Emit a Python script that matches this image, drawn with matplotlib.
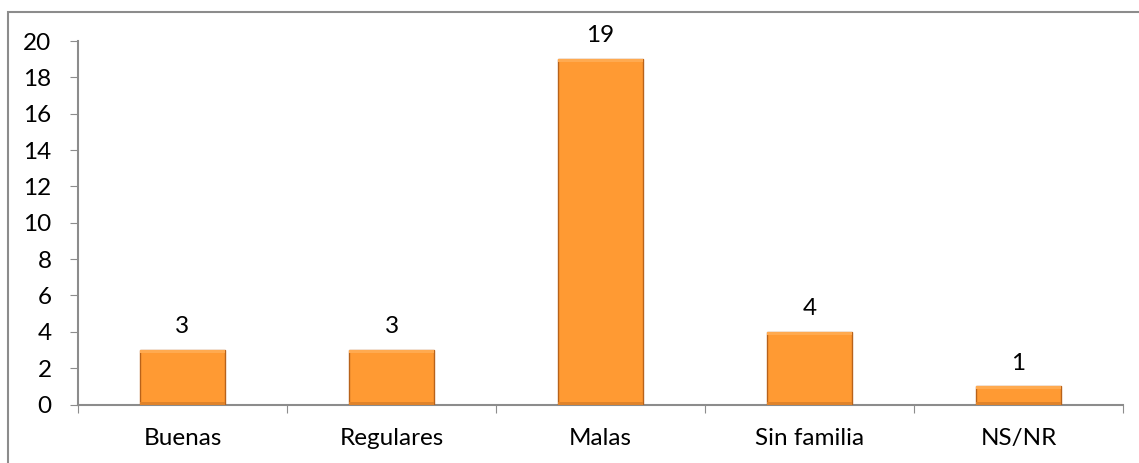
import matplotlib.pyplot as plt
from matplotlib.patches import Rectangle

categories = ['Buenas', 'Regulares', 'Malas', 'Sin familia', 'NS/NR']
counts = [3, 3, 19, 4, 1]
yticks = list(range(0, 21, 2))

plt.rcParams['font.family'] = ['Lato', 'DejaVu Sans']

fig = plt.figure(figsize=(11.39, 4.63), dpi=100)
ax = fig.add_axes([78 / 1139, 1 - 404.5 / 463, (1123 - 78) / 1139, (404.5 - 41) / 463])

# outer chart frame (only left and top edges fall inside the image)
fig.add_artist(Rectangle((8 / 1139, -0.1), 1.2, 1 - 12 / 463 + 0.1, transform=fig.transFigure,
                         fill=False, edgecolor='#8c8c8c', linewidth=1.5))

x = range(len(categories))
bars = ax.bar(x, counts, width=0.41, color='#FF9A33', edgecolor='#B8621A', linewidth=1.0, zorder=3)
# slight bevel: darker bottom band, lighter top band
for b in bars:
    h = b.get_height()
    ax.add_patch(Rectangle((b.get_x(), 0), b.get_width(), min(0.15, h * 0.15),
                           facecolor='#E0832A', edgecolor='none', zorder=4))
    ax.add_patch(Rectangle((b.get_x(), h - min(0.15, h * 0.15)), b.get_width(), min(0.15, h * 0.15),
                           facecolor='#FFAA50', edgecolor='none', zorder=4))

for xi, v in zip(x, counts):
    ax.text(xi, v + 0.7, str(v), ha='center', va='bottom', fontsize=17.5)

ax.set_xlim(-0.5, len(categories) - 0.5)
ax.set_ylim(0, 20)
ax.set_yticks(yticks)
ax.set_xticks([i - 0.5 for i in range(len(categories) + 1)], minor=False)
ax.set_xticklabels([])
ax.set_xticks(list(x), minor=True)
ax.set_xticklabels(categories, minor=True)
ax.tick_params(axis='x', which='minor', length=0, pad=17, labelsize=17.5)
ax.tick_params(axis='x', which='major', length=6, color='#8c8c8c', direction='out')
ax.tick_params(axis='y', length=6, color='#8c8c8c', direction='out', labelsize=17.5, pad=13)

for s in ['top', 'right']:
    ax.spines[s].set_visible(False)
for s in ['left', 'bottom']:
    ax.spines[s].set_color('#8c8c8c')
    ax.spines[s].set_linewidth(1.5)

fig.savefig('out.png', dpi=100)
